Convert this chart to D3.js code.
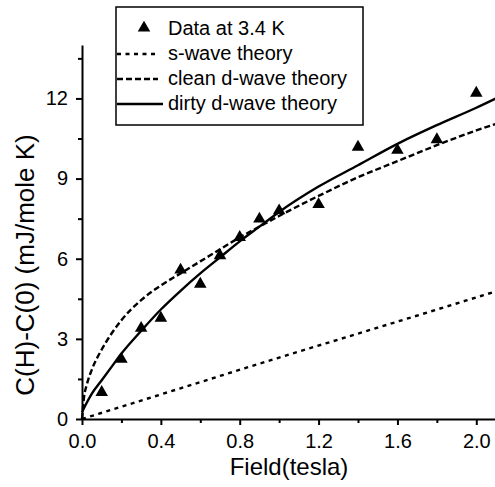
<!DOCTYPE html>
<html>
<head>
<meta charset="utf-8">
<script src="https://cdn.jsdelivr.net/npm/d3@7"></script>
<style>
  body { margin: 0; background: #fff; }
  svg { display: block; font-family: "Liberation Sans", Arial, sans-serif; }
</style>
</head>
<body>
<svg id="chart" width="495" height="487"></svg>
<script>
// measured points (data at 3.4 K)
var dataField = [0.1, 0.2, 0.3, 0.4, 0.5, 0.6, 0.7, 0.8, 0.9, 1.0, 1.2, 1.4, 1.6, 1.8, 2.0];
var dataC = [1.0, 2.24, 3.4, 3.78, 5.58, 5.05, 6.12, 6.8, 7.49, 7.8, 8.03, 10.18, 10.06, 10.46, 12.2];

// theory curves
var sField = [0, 0.5, 1.0, 1.5, 2.1];
var sC = [0, 1.15, 2.3, 3.42, 4.78];

var cleanField = [0, 0.01, 0.025, 0.05, 0.1, 0.15, 0.2, 0.3, 0.4, 0.5, 0.6, 0.7, 0.8, 0.9, 1.0, 1.2, 1.4, 1.6, 1.8, 2.0, 2.1];
var cleanC = [0, 0.8, 1.3, 1.85, 2.6, 3.2, 3.7, 4.45, 5.0, 5.45, 5.9, 6.35, 6.8, 7.2, 7.6, 8.35, 9.05, 9.65, 10.25, 10.8, 11.05];

var dirtyField = [0, 0.02, 0.05, 0.1, 0.15, 0.2, 0.3, 0.4, 0.5, 0.6, 0.7, 0.8, 0.9, 1.0, 1.2, 1.4, 1.6, 1.8, 2.0, 2.1];
var dirtyC = [0.25, 0.55, 0.95, 1.45, 1.95, 2.45, 3.3, 4.1, 4.8, 5.45, 6.05, 6.65, 7.2, 7.75, 8.7, 9.5, 10.3, 11.0, 11.65, 12.0];

var xTicks = [0, 0.4, 0.8, 1.2, 1.6, 2.0];
var xMinor = [0.2, 0.6, 1.0, 1.4, 1.8];
var yTicks = [0, 3, 6, 9, 12];
var yMinor = [1.5, 4.5, 7.5, 10.5, 13.5];

var legendLabels = ["Data at 3.4 K", "s-wave theory", "clean d-wave theory", "dirty d-wave theory"];

var svg = d3.select("#chart"),
    margin = {top: 45, right: 0, bottom: 68, left: 82},
    width = 496 - margin.left,
    height = +svg.attr("height") - margin.top - margin.bottom;

var g = svg.append("g").attr("transform", "translate(" + margin.left + "," + margin.top + ")");

var x = d3.scaleLinear().domain([0, 2.1]).range([0, width]);
var y = d3.scaleLinear().domain([0, 14]).range([height, 0]);

function zip(a, b) {
    return a.map(function (v, i) { return [v, b[i]]; });
}

var line = d3.line()
    .x(function (d) { return x(d[0]); })
    .y(function (d) { return y(d[1]); })
    .curve(d3.curveMonotoneX);

// curves
g.append("path").datum(zip(sField, sC))
    .attr("d", line).attr("fill", "none").attr("stroke", "#000")
    .attr("stroke-width", 2.4).attr("stroke-dasharray", "4,4.5");

g.append("path").datum(zip(cleanField, cleanC))
    .attr("d", line).attr("fill", "none").attr("stroke", "#000")
    .attr("stroke-width", 2.4).attr("stroke-dasharray", "6,3");

g.append("path").datum(zip(dirtyField, dirtyC))
    .attr("d", line).attr("fill", "none").attr("stroke", "#000")
    .attr("stroke-width", 2.4);

// data triangles
var tri = d3.symbol().type(d3.symbolTriangle).size(68);
g.selectAll(".pt")
    .data(zip(dataField, dataC))
    .enter().append("path")
    .attr("class", "pt")
    .attr("d", tri)
    .attr("transform", function (d) { return "translate(" + x(d[0]) + "," + y(d[1]) + ")"; })
    .attr("fill", "#000");

// axes
g.append("g")
    .attr("transform", "translate(0," + height + ")")
    .call(d3.axisBottom(x).tickValues(xTicks).tickSize(6).tickSizeOuter(0).tickPadding(9)
        .tickFormat(d3.format(".1f")));
g.append("g")
    .attr("transform", "translate(0," + height + ")")
    .call(d3.axisBottom(x).tickValues(xMinor).tickSize(4).tickSizeOuter(0).tickFormat(""))
    .select(".domain").remove();

g.append("g")
    .call(d3.axisLeft(y).tickValues(yTicks).tickSize(6).tickSizeOuter(0).tickPadding(8));
g.append("g")
    .call(d3.axisLeft(y).tickValues(yMinor).tickSize(4).tickSizeOuter(0).tickFormat(""))
    .select(".domain").remove();

g.selectAll(".domain, .tick line").attr("stroke", "#000").attr("stroke-width", 2);
g.selectAll(".tick text").attr("font-size", 20).attr("fill", "#000")
    .attr("font-family", "Liberation Sans, Arial, sans-serif");

// axis titles
svg.append("text")
    .attr("x", margin.left + width / 2)
    .attr("y", 475)
    .attr("text-anchor", "middle")
    .attr("font-size", 24)
    .text("Field(tesla)");

svg.append("text")
    .attr("transform", "translate(34,265)rotate(-90)")
    .attr("text-anchor", "middle")
    .attr("font-size", 26)
    .text("C(H)-C(0) (mJ/mole K)");

// legend
var lg = svg.append("g");
lg.append("rect")
    .attr("x", 116).attr("y", 7).attr("width", 247).attr("height", 118)
    .attr("fill", "#fff").attr("stroke", "#000").attr("stroke-width", 1.5);

var rowY = [35, 60, 85, 110];
lg.append("path")
    .attr("d", tri)
    .attr("transform", "translate(144," + (rowY[0] - 7) + ")");

var legendDash = [null, "4,4.5", "6,3", null];
[1, 2, 3].forEach(function (i) {
    lg.append("line")
        .attr("x1", 117).attr("x2", i == 3 ? 163 : 158)
        .attr("y1", rowY[i] - 6).attr("y2", rowY[i] - 6)
        .attr("stroke", "#000").attr("stroke-width", 2.4)
        .attr("stroke-dasharray", legendDash[i]);
});

lg.selectAll(".lt")
    .data(legendLabels)
    .enter().append("text")
    .attr("x", 168)
    .attr("y", function (d, i) { return rowY[i]; })
    .attr("font-size", 20)
    .text(function (d) { return d; });
</script>
</body>
</html>
